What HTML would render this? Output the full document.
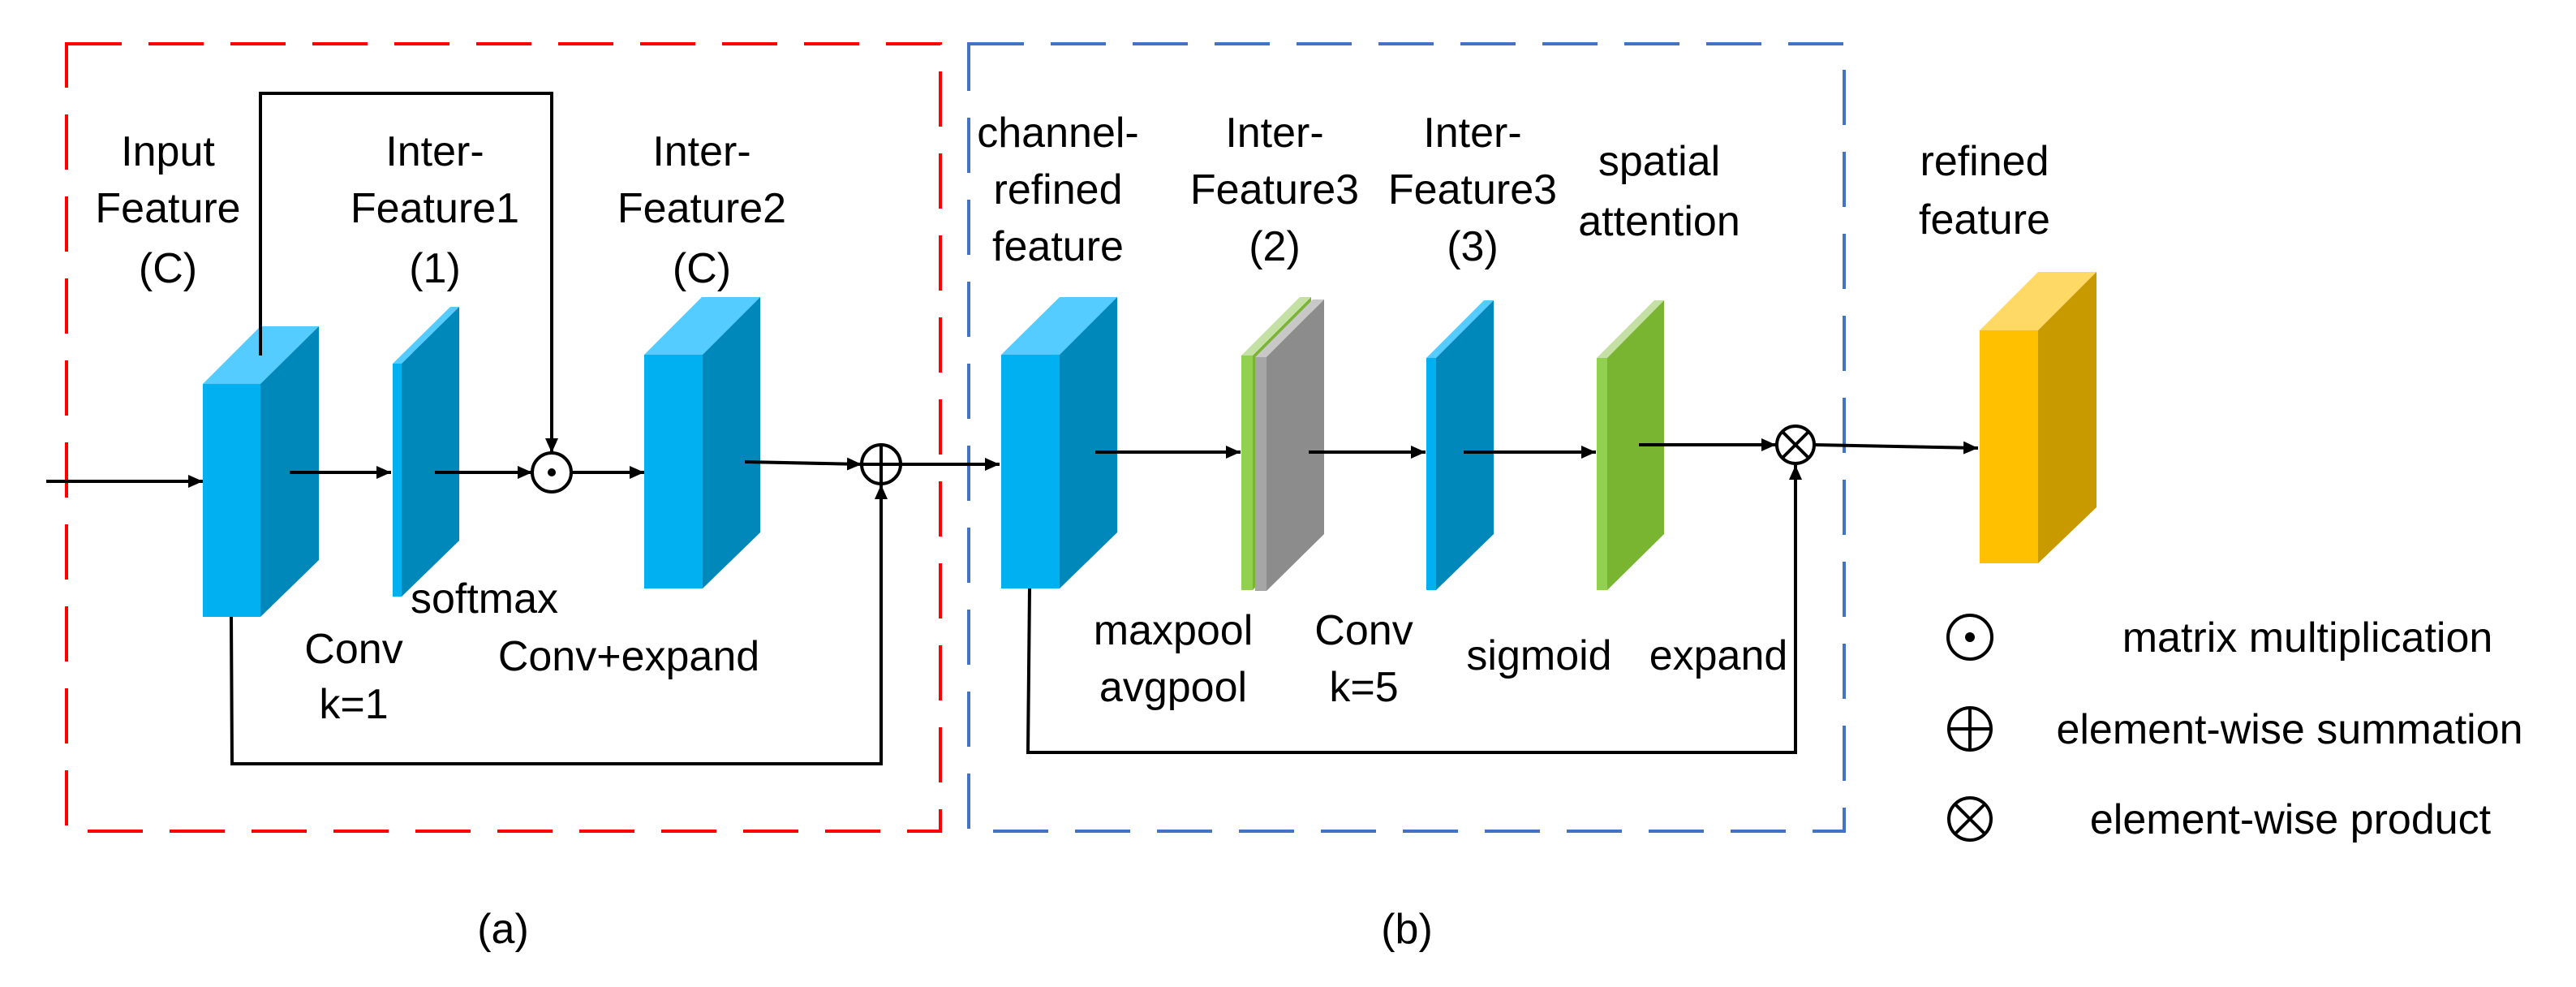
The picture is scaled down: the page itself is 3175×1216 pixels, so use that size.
<!DOCTYPE html>
<html><head><meta charset="utf-8"><style>
html,body{margin:0;padding:0;background:#fff;}
svg{display:block;}
text{font-family:"Liberation Sans",sans-serif;font-size:52px;fill:#000;text-anchor:middle;}
</style></head><body>
<svg width="3175" height="1216" viewBox="0 0 3175 1216" xmlns="http://www.w3.org/2000/svg">
<defs>
<marker id="a2" markerWidth="20" markerHeight="20" refX="18" refY="10" orient="auto" markerUnits="userSpaceOnUse" viewBox="0 0 20 20">
<path d="M0,2 L18,10 L0,18 z" fill="#000"/></marker>
</defs>
<!-- dashed boxes -->
<rect x="82" y="54" width="1077" height="970" fill="none" stroke="#ff0000" stroke-width="4" stroke-dasharray="68,33"/>
<rect x="1194" y="54" width="1079" height="970" fill="none" stroke="#4472c4" stroke-width="4" stroke-dasharray="68,33"/>

<!-- Input Feature cube -->
<polygon points="250,473 321,402 393,402 321,473" fill="#55ccff"/>
<polygon points="321,473 393,402 393,690 321,760" fill="#0088bb"/>
<rect x="250" y="473" width="71" height="287" fill="#00b0f0"/>
<!-- IF1 slab -->
<polygon points="484,448 555,378 566,378 495,448" fill="#55ccff"/>
<polygon points="495,448 566,378 566,666 495,735" fill="#0088bb"/>
<rect x="484" y="448" width="11" height="287" fill="#00b0f0"/>
<!-- IF2 cube -->
<polygon points="794,437 865,366 937,366 866,437" fill="#55ccff"/>
<polygon points="866,437 937,366 937,656 866,725" fill="#0088bb"/>
<rect x="794" y="437" width="72" height="288" fill="#00b0f0"/>

<!-- channel refined cube -->
<polygon points="1234,437 1306,366 1377,366 1306,437" fill="#55ccff"/>
<polygon points="1306,437 1377,366 1377,656 1306,725" fill="#0088bb"/>
<rect x="1234" y="437" width="72" height="288" fill="#00b0f0"/>
<!-- IF3(2) green + grey -->
<polygon points="1530,438 1602,366 1616,366 1544,438" fill="#c5e0a5"/>
<polygon points="1544,438 1616,366 1616,650 1544,727" fill="#7ab532"/>
<rect x="1530" y="438" width="14" height="289" fill="#92d050"/>
<polygon points="1547,440 1618,369 1632,369 1561,440" fill="#c8c8c8"/>
<polygon points="1561,440 1632,369 1632,658 1561,728" fill="#8c8c8c"/>
<rect x="1547" y="440" width="14" height="288" fill="#a6a6a6"/>
<!-- IF3(3) -->
<polygon points="1758,441 1829,370 1841,370 1770,441" fill="#55ccff"/>
<polygon points="1770,441 1841,370 1841,658 1770,727" fill="#0088bb"/>
<rect x="1758" y="441" width="12" height="286" fill="#00b0f0"/>
<!-- spatial attention -->
<polygon points="1968,441 2039,370 2051,370 1981,441" fill="#c5e0a5"/>
<polygon points="1981,441 2051,370 2051,658 1981,727" fill="#7ab532"/>
<rect x="1968" y="441" width="13" height="286" fill="#92d050"/>
<!-- refined yellow cube -->
<polygon points="2440,407 2512,335 2584,335 2512,407" fill="#ffd966"/>
<polygon points="2512,407 2584,335 2584,625 2512,694" fill="#c99a00"/>
<rect x="2440" y="407" width="72" height="287" fill="#ffc000"/>

<g stroke="#000" stroke-width="4" fill="none">
<!-- (a) connectors -->
<line x1="57" y1="593" x2="250" y2="593" marker-end="url(#a2)"/>
<line x1="357" y1="582" x2="482" y2="582" marker-end="url(#a2)"/>
<line x1="536" y1="582" x2="656" y2="582" marker-end="url(#a2)"/>
<line x1="704" y1="582" x2="794" y2="582" marker-end="url(#a2)"/>
<polyline points="321,438 321,115 680,115 680,558" marker-end="url(#a2)"/>
<polyline points="918,569 1062,572" marker-end="url(#a2)"/>
<polyline points="285,760 286,941 1086,941 1086,597" marker-end="url(#a2)"/>
<circle cx="680" cy="582" r="24"/>
<circle cx="1086" cy="572" r="24"/>
<line x1="1062" y1="572" x2="1110" y2="572"/>
<line x1="1086" y1="548" x2="1086" y2="596"/>
<!-- (b) connectors -->
<line x1="1110" y1="572" x2="1232" y2="572" marker-end="url(#a2)"/>
<line x1="1350" y1="557" x2="1529" y2="557" marker-end="url(#a2)"/>
<line x1="1613" y1="557" x2="1757" y2="557" marker-end="url(#a2)"/>
<line x1="1804" y1="557" x2="1967" y2="557" marker-end="url(#a2)"/>
<line x1="2020" y1="548" x2="2189" y2="548" marker-end="url(#a2)"/>
<polyline points="1269,725 1267,927 2213,927 2213,573" marker-end="url(#a2)"/>
<circle cx="2213" cy="548" r="23"/>
<line x1="2197" y1="532" x2="2229" y2="564"/>
<line x1="2229" y1="532" x2="2197" y2="564"/>
<polyline points="2236,548 2438,552" marker-end="url(#a2)"/>
<!-- legend -->
<circle cx="2428" cy="785" r="27"/>
<circle cx="2428" cy="898" r="26"/>
<line x1="2402" y1="898" x2="2454" y2="898"/>
<line x1="2428" y1="872" x2="2428" y2="924"/>
<circle cx="2428" cy="1009" r="26"/>
<line x1="2410" y1="991" x2="2446" y2="1027"/>
<line x1="2446" y1="991" x2="2410" y2="1027"/>
</g>
<circle cx="680" cy="582" r="5" fill="#000"/>
<circle cx="2428" cy="785" r="6" fill="#000"/>

<!-- labels (a) -->
<text x="207" y="204">Input</text><text x="207" y="274">Feature</text><text x="207" y="348">(C)</text>
<text x="536" y="204">Inter-</text><text x="536" y="274">Feature1</text><text x="536" y="348">(1)</text>
<text x="865" y="204">Inter-</text><text x="865" y="274">Feature2</text><text x="865" y="348">(C)</text>
<text x="597" y="755">softmax</text>
<text x="436" y="817">Conv</text><text x="436" y="885">k=1</text>
<text x="775" y="826">Conv+expand</text>
<text x="620" y="1162">(a)</text>
<!-- labels (b) -->
<text x="1304" y="181">channel-</text><text x="1304" y="251">refined</text><text x="1304" y="321">feature</text>
<text x="1571" y="181">Inter-</text><text x="1571" y="251">Feature3</text><text x="1571" y="321">(2)</text>
<text x="1815" y="181">Inter-</text><text x="1815" y="251">Feature3</text><text x="1815" y="321">(3)</text>
<text x="2045" y="216">spatial</text><text x="2045" y="290">attention</text>
<text x="1446" y="794">maxpool</text><text x="1446" y="864">avgpool</text>
<text x="1681" y="794">Conv</text><text x="1681" y="864">k=5</text>
<text x="1897" y="825">sigmoid</text>
<text x="2118" y="825">expand</text>
<text x="1734" y="1162">(b)</text>
<text x="2446" y="216">refined</text><text x="2446" y="288">feature</text>
<g style="font-size:54px">
<text x="2844" y="803">matrix multiplication</text>
<text x="2822" y="916">element-wise summation</text>
<text x="2823" y="1027">element-wise product</text>
</g>
</svg>
</body></html>
